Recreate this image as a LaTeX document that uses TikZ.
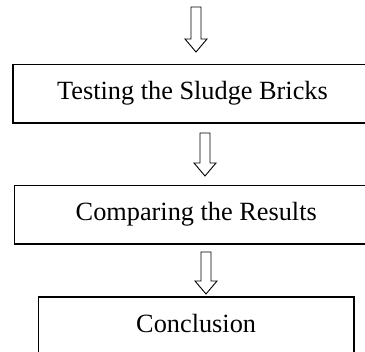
\documentclass[tikz,border=0pt]{standalone}
\usepackage{fontspec}
\setmainfont{Liberation Serif}
\begin{document}
\begin{tikzpicture}[x=1pt,y=-1pt,
  box/.style={draw=black, line width=1.6pt, rectangle, inner sep=0pt,
    font=\fontsize{26.3}{30}\selectfont, text height=18pt, text depth=6pt},
  blockarrow/.style={draw=black, line width=0.9pt, fill=white, line join=miter},
  pics/downarrow/.style={code={
    \path[blockarrow] (-5,0) -- (-5,#1-13) -- (-11,#1-13) -- (0,#1) -- (11,#1-13) -- (5,#1-13) -- (5,0) -- cycle;
  }}]
\useasboundingbox (0,0) rectangle (365,352);
\clip (0,0) rectangle (365,352);

\node[box, minimum width=359pt, minimum height=58.5pt] (b1) at (192.5,93.75) {Testing the Sludge Bricks};
\node[box, minimum width=363.5pt, minimum height=58.3pt] (b2) at (196.25,214.85) {Comparing the Results};
\node[box, minimum width=315.7pt, minimum height=58.5pt] (b3) at (196.15,326.55) {Conclusion};

\coordinate (a1) at (196,7);
\coordinate (a2) at (205,133);
\coordinate (a3) at (206,252);

\pic at (a1) {downarrow=45};
\pic at (a2) {downarrow=43};
\pic at (a3) {downarrow=42};
\end{tikzpicture}
\end{document}
